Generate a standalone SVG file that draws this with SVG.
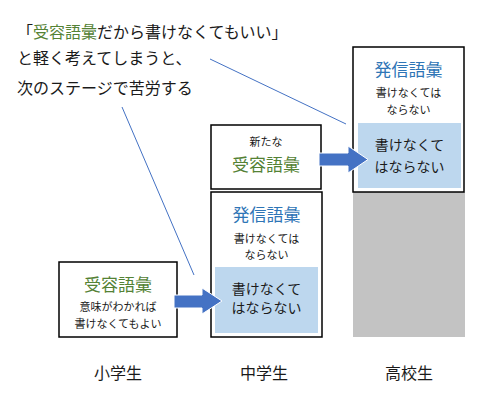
<svg xmlns="http://www.w3.org/2000/svg" width="498" height="403" viewBox="0 0 498 403">
<style>
text{font-family:"Noto Sans CJK JP","Noto Sans",sans-serif;fill:#1a1a1a;text-anchor:middle}
.box{fill:#fff;stroke:#000;stroke-width:1.5}
.inner{fill:#BDD7EE}
.big{font-size:17px}
.sm{font-size:11px}
.mid{font-size:14px}
.lbl{font-size:16px}
.green{fill:#548235}
.blue{fill:#2E75B6}
.arrow{fill:#4472C4;stroke:#fff;stroke-width:1}
.conn{stroke:#4472C4;stroke-width:1;fill:none}
</style>
<rect x="0" y="0" width="498" height="403" fill="#fff"/>
<g id="caption">
<text x="17" y="38" style="font-size:16px;text-anchor:start">「<tspan class="green">受容語彙</tspan>だから書けなくてもいい」</text>
<text x="17" y="64" style="font-size:16px;text-anchor:start">と軽く考えてしまうと、</text>
<text x="17" y="94" style="font-size:16px;text-anchor:start">次のステージで苦労する</text>
</g>
<g id="highschool">
<rect x="353" y="192" width="112" height="145" fill="#C3C3C3"/>
<rect class="box" x="353" y="47" width="111" height="145"/>
<text class="big blue" x="408.5" y="76">発信語彙</text>
<text class="sm" x="408.5" y="97">書けなくては</text>
<text class="sm" x="408.5" y="114">ならない</text>
<rect class="inner" x="358" y="123" width="103" height="65"/>
<text class="mid" x="409.5" y="150">書けなくて</text>
<text class="mid" x="409.5" y="172">はならない</text>
</g>
<g id="middle-receptive">
<rect class="box" x="211" y="125" width="110" height="64"/>
<text class="sm" x="266" y="146">新たな</text>
<text class="big green" x="266" y="171">受容語彙</text>
</g>
<g id="middle-productive">
<rect class="box" x="211" y="192" width="111" height="145"/>
<text class="big blue" x="266.5" y="221">発信語彙</text>
<text class="sm" x="266.5" y="243">書けなくては</text>
<text class="sm" x="266.5" y="259">ならない</text>
<rect class="inner" x="215" y="267" width="103" height="66"/>
<text class="mid" x="266.5" y="294">書けなくて</text>
<text class="mid" x="266.5" y="313">はならない</text>
</g>
<g id="elementary">
<rect class="box" x="59" y="262" width="118" height="75"/>
<text class="big green" x="118" y="291">受容語彙</text>
<text class="sm" x="118" y="311">意味がわかれば</text>
<text class="sm" x="118" y="328">書けなくてもよい</text>
</g>
<g id="labels">
<text class="lbl" x="118" y="379">小学生</text>
<text class="lbl" x="264" y="379">中学生</text>
<text class="lbl" x="409" y="379">高校生</text>
</g>
<g id="connectors">
<line class="conn" x1="210" y1="59" x2="346" y2="124"/>
<line class="conn" x1="122" y1="107" x2="194" y2="275"/>
<polygon class="arrow" points="174,295 202,295 202,288 222,301 202,314 202,308 174,308"/>
<polygon class="arrow" points="319,153 348,153 348,146 368,159.5 348,173 348,166 319,166"/>
</g>
</svg>
